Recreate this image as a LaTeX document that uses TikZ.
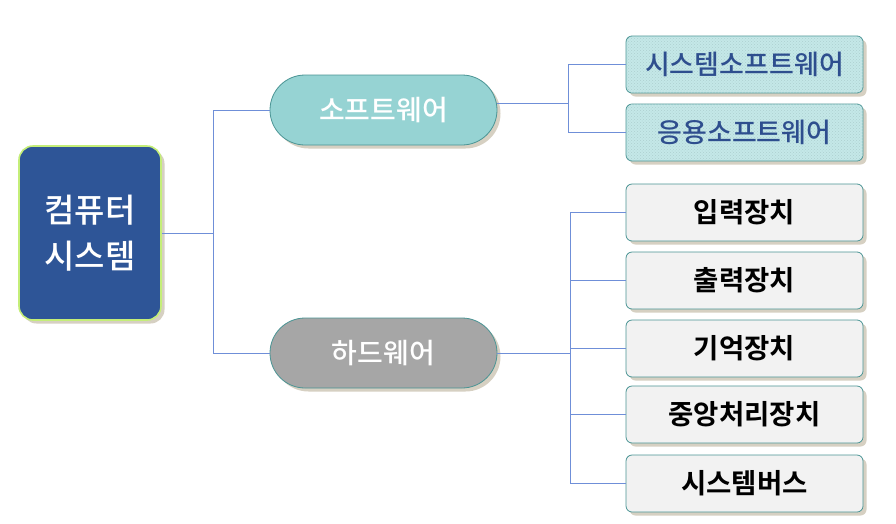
\documentclass[tikz,border=0pt]{standalone}
\usepackage{fontspec}
\setmainfont{Noto Sans CJK KR}
\newfontfamily\krb{Noto Sans CJK KR}[BoldFont={* Bold}]
\newfontfamily\krm{Noto Sans CJK KR Medium}
\usetikzlibrary{shadows,patterns}
\definecolor{navy}{HTML}{2E5597}
\definecolor{limeb}{HTML}{C4EE78}
\definecolor{tealb}{HTML}{4A9494}
\definecolor{swfill}{HTML}{96D3D3}
\definecolor{hwfill}{HTML}{A6A6A6}
\definecolor{hatch}{HTML}{C4E8E8}
\definecolor{lightg}{HTML}{F2F2F2}
\definecolor{conn}{HTML}{6F8FD8}
\definecolor{shad}{HTML}{D6D0C2}
\definecolor{dblue}{HTML}{2E4E8E}
\begin{document}
\begin{tikzpicture}[x=1pt,y=-1pt,
  shd/.style={drop shadow={shadow xshift=3.5pt,shadow yshift=-3.5pt,fill=shad,opacity=1}},
  rootbox/.style={shd,draw=limeb,line width=1.6pt,fill=navy,rounded corners=14pt,minimum width=142pt,minimum height=174pt,align=center,text=white,font=\krm\fontsize{33}{46}\selectfont},
  pill/.style={shd,draw=tealb,line width=0.8pt,rounded corners=35pt,minimum width=227pt,minimum height=70pt,text=white,font=\krm\fontsize{28}{30}\selectfont},
  swbox/.style={shd,draw=tealb,line width=0.8pt,fill=hatch,postaction={pattern=crosshatch dots,pattern color=tealb!45},rounded corners=6pt,minimum width=237pt,minimum height=57pt,text=dblue,font=\krm\fontsize{27}{30}\selectfont},
  hwbox/.style={shd,draw=tealb,line width=0.8pt,fill=lightg,rounded corners=6pt,minimum width=237pt,minimum height=57pt,text=black,font=\krb\bfseries\fontsize{27.5}{30}\selectfont},
  link/.style={draw=conn,line width=0.8pt}]
\useasboundingbox (0,0) rectangle (896,523);
\node[rootbox] (root) at (90,233) {컴퓨터\\시스템};
\node[pill,fill=swfill] (sw) at (383.5,110) {소프트웨어};
\node[pill,fill=hwfill] (hw) at (383.5,353) {하드웨어};
\node[swbox] (s1) at (744.5,64.5) {시스템소프트웨어};
\node[swbox] (s2) at (744.5,132.5) {응용소프트웨어};
\node[hwbox] (h1) at (744.5,212.5) {입력장치};
\node[hwbox] (h2) at (744.5,280.5) {출력장치};
\node[hwbox] (h3) at (744.5,348.5) {기억장치};
\node[hwbox] (h4) at (744.5,414.5) {중앙처리장치};
\node[hwbox] (h5) at (744.5,483.5) {시스템버스};
\coordinate (j1) at (213,233);
\coordinate (j2) at (568,103);
\coordinate (j3) at (570,353);
\draw[link] (root.east) -- (j1) |- (sw.west);
\draw[link] (j1) |- (hw.west);
\draw[link] (sw.east) ++(0,-7) coordinate (swo) -- (j2) |- (s1.west);
\draw[link] (j2) |- (s2.west);
\draw[link] (hw.east) -- (j3) |- (h1.west);
\draw[link] (j3) |- (h2.west);
\draw[link] (j3) |- (h3.west);
\draw[link] (j3) |- (h4.west);
\draw[link] (j3) |- (h5.west);
\end{tikzpicture}
\end{document}
